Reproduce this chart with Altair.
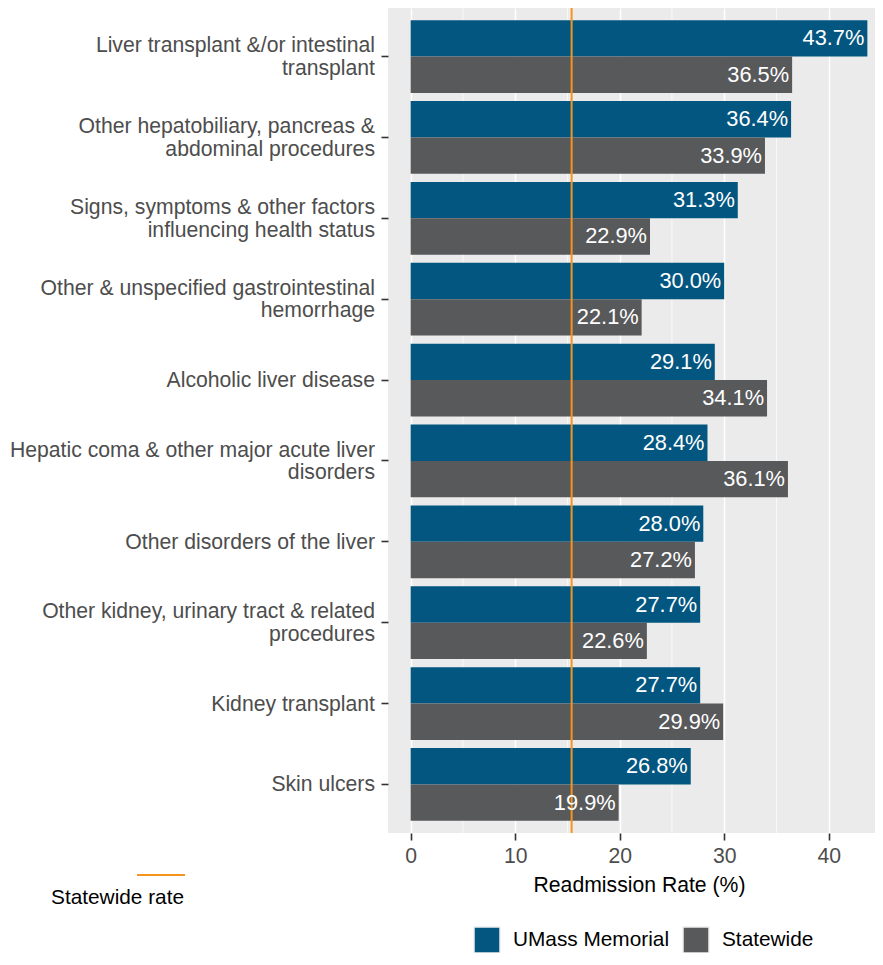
import altair as alt
import pandas as pd

categories = [
    "Liver transplant &/or intestinal|transplant",
    "Other hepatobiliary, pancreas &|abdominal procedures",
    "Signs, symptoms & other factors|influencing health status",
    "Other & unspecified gastrointestinal|hemorrhage",
    "Alcoholic liver disease",
    "Hepatic coma & other major acute liver|disorders",
    "Other disorders of the liver",
    "Other kidney, urinary tract & related|procedures",
    "Kidney transplant",
    "Skin ulcers",
]
umass_rates = [43.7, 36.4, 31.3, 30.0, 29.1, 28.4, 28.0, 27.7, 27.7, 26.8]
statewide_rates = [36.5, 33.9, 22.9, 22.1, 34.1, 36.1, 27.2, 22.6, 29.9, 19.9]
groups = ["UMass Memorial", "Statewide"]
group_colors = ["#02567F", "#58595B"]
statewide_rate = 15.4
x_ticks = [0, 10, 20, 30, 40]
x_minor = [5, 15, 25, 35]
x_domain = [-2.17, 44.43]

rows = []
for c, u, s in zip(categories, umass_rates, statewide_rates):
    rows.append({"category": c, "group": groups[0], "rate": u})
    rows.append({"category": c, "group": groups[1], "rate": s})
df = pd.DataFrame(rows)
cat_df = pd.DataFrame({"category": categories})

FONT = "Liberation Sans"
FS = 21.2

x_scale = alt.Scale(domain=x_domain, nice=False, zero=False)
x_axis = alt.Axis(
    values=x_ticks, grid=True, gridColor="white", gridWidth=1.5,
    domain=False, tickSize=7, tickWidth=1.6, tickColor="#333333",
    labelFontSize=FS, labelColor="#4D4D4D", labelPadding=5, labelFont=FONT,
    title="Readmission Rate (%)", titleFontSize=FS, titleColor="black",
    titleFontWeight="normal", titlePadding=8, titleFont=FONT,
    titleX=251, titleAlign="center",
)
y_enc = alt.Y(
    "category:N", sort=categories,
    scale=alt.Scale(paddingInner=0.1, paddingOuter=0.15),
    axis=alt.Axis(
        title=None, domain=False, grid=False, tickSize=7, tickWidth=1.6,
        tickColor="#333333", labels=False,
    ),
)
y_off = alt.YOffset("group:N", sort=groups, scale=alt.Scale(paddingInner=0, paddingOuter=0))

minor = alt.Chart(pd.DataFrame({"rate": x_minor})).mark_rule(
    color="white", strokeWidth=0.7
).encode(x=alt.X("rate:Q", scale=x_scale, axis=x_axis))

bars = alt.Chart(df).mark_bar().encode(
    x=alt.X("rate:Q", scale=x_scale, axis=x_axis),
    y=y_enc,
    yOffset=y_off,
    color=alt.Color(
        "group:N",
        scale=alt.Scale(domain=groups, range=group_colors),
        legend=alt.Legend(
            title=None, orient="none", legendX=85, legendY=918,
            direction="horizontal", symbolType="square", symbolSize=676,
            symbolStrokeColor="#EEEEEE", symbolStrokeWidth=1.5, symbolOpacity=1,
            labelFontSize=20.8, labelColor="black", labelFont=FONT,
            labelOffset=12, columnPadding=11, padding=0,
        ),
    ),
)

labels = alt.Chart(df).mark_text(
    align="right", baseline="middle", dx=-3, color="white", fontSize=21.8, font=FONT
).transform_calculate(
    lbl="format(datum.rate, '.1f') + '%'"
).encode(
    x=alt.X("rate:Q", scale=x_scale, axis=x_axis),
    y=y_enc,
    yOffset=y_off,
    text="lbl:N",
)

ylab_single = alt.Chart(cat_df).transform_filter(
    "indexof(datum.category, '|') < 0"
).mark_text(
    align="right", baseline="middle", fontSize=FS, color="#4D4D4D", font=FONT, dy=1
).encode(y=y_enc, x=alt.value(-13), text="category:N")

ylab_double = alt.Chart(cat_df).transform_filter(
    "indexof(datum.category, '|') >= 0"
).mark_text(
    align="right", baseline="middle", fontSize=FS, color="#4D4D4D", font=FONT,
    lineBreak="|", lineHeight=22.6, dy=-10.3,
).encode(y=y_enc, x=alt.value(-13), text="category:N")

ref_line = alt.Chart(pd.DataFrame({"rate": [statewide_rate]})).mark_rule(
    color="#F7941D", strokeWidth=2
).encode(x=alt.X("rate:Q", scale=x_scale, axis=x_axis))

ann_line = alt.Chart(pd.DataFrame({"k": ["Statewide rate"]})).mark_rule(
    color="#F7941D", strokeWidth=2.2
).encode(x=alt.value(-251), x2=alt.value(-203), y=alt.value(867))

ann_text = alt.Chart(pd.DataFrame({"k": ["Statewide rate"]})).mark_text(
    align="right", baseline="alphabetic", fontSize=20.8, color="black", font=FONT
).encode(x=alt.value(-204), y=alt.value(896), text="k:N")

chart = alt.layer(
    minor, bars, ref_line, labels, ylab_single, ylab_double, ann_line, ann_text
).properties(
    width=487, height=825,
    autosize=alt.AutoSizeParams(type="none"),
    padding={"left": 380, "top": 0, "right": 0, "bottom": 120},
).configure_view(
    fill="#EBEBEB", stroke=None
)

chart.save("out.html", embed_options={"renderer": "svg", "actions": False})
